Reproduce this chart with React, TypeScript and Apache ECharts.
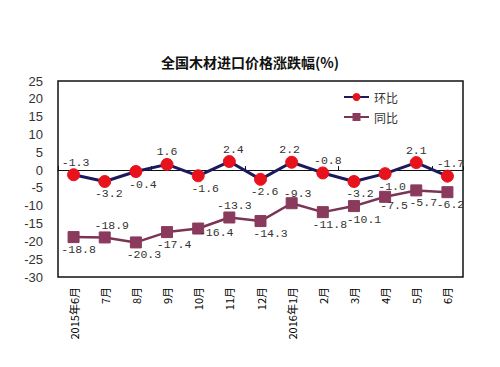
import React, { useEffect, useRef } from "react";
import * as echarts from "echarts";

const categories = ["2015年6月", "7月", "8月", "9月", "10月", "11月", "12月", "2016年1月", "2月", "3月", "4月", "5月", "6月"];
const momValues = [-1.3, -3.2, -0.4, 1.6, -1.6, 2.4, -2.6, 2.2, -0.8, -3.2, -1.0, 2.1, -1.7];
const yoyValues = [-18.8, -18.9, -20.3, -17.4, -16.4, -13.3, -14.3, -9.3, -11.8, -10.1, -7.5, -5.7, -6.2];
const momLabelPos = ["top", "bottom", "bottom", "top", "bottom", "top", "bottom", "top", "top", "bottom", "bottom", "top", "top"];
const yoyLabelPos = ["bottom", "top", "bottom", "bottom", "bottom", "top", "bottom", "top", "bottom", "bottom", "bottom", "bottom", "bottom"];
const momLabelShift = [[2, 0], [4, 0], [7, 0], [0, 0], [7, 0], [4, 0], [4, 0], [-2, 0], [5, 0], [6, 0], [7, 0], [0, 0], [3, 0]];
const yoyLabelShift = [[5, 0], [7, 0], [8, 0], [7, 0], [18, -8], [5, 0], [10, 0], [6, 2], [7, 0], [10, 1], [9, -3], [7, 0], [3, 0]];

export default function App() {
  const ref = useRef<HTMLDivElement>(null);
  useEffect(() => {
    document.body.style.margin = "0";
    const chart = echarts.init(ref.current!, null, { renderer: "svg" });
    const labelFont = { fontFamily: "Liberation Mono", fontSize: 11.5, color: "#333" };
    const fmt = (p: any) => Number(p.value).toFixed(1);
    chart.setOption({
      animation: false,
      backgroundColor: "#fff",
      title: {
        text: "全国木材进口价格涨跌幅(%)",
        left: "center",
        top: 50,
        textStyle: { fontSize: 14, fontWeight: "bold", color: "#111", fontFamily: "Noto Sans CJK SC" },
      },
      legend: {
        orient: "vertical",
        left: 338,
        top: 86,
        itemGap: 8,
        itemWidth: 25,
        itemHeight: 10,
        textStyle: { fontSize: 12, color: "#333", fontFamily: "Noto Sans CJK SC" },
        data: ["环比", "同比"],
      },
      grid: {
        left: 58,
        right: 37,
        top: 81,
        bottom: 90,
        show: true,
        borderColor: "#111",
        borderWidth: 1.5,
        backgroundColor: "transparent",
      },
      xAxis: [
        {
          type: "category",
          data: categories,
          position: "bottom",
          axisLine: { show: false, onZero: false },
          axisTick: { show: false },
          axisLabel: { rotate: 90, fontSize: 11, color: "#000", margin: 10, fontFamily: "Noto Sans CJK SC" },
        },
        {
          type: "category",
          data: categories,
          position: "bottom",
          axisLine: { show: true, onZero: true, lineStyle: { color: "#111", width: 1 } },
          axisTick: { show: true, inside: true, length: 4, lineStyle: { color: "#111" } },
          axisLabel: { show: false },
        },
      ],
      yAxis: {
        type: "value",
        min: -30,
        max: 25,
        interval: 5,
        axisLine: { show: false },
        axisTick: { show: false },
        splitLine: { show: false },
        axisLabel: { fontSize: 13, color: "#333", fontFamily: "Liberation Sans", margin: 15 },
      },
      series: [
        {
          name: "环比",
          type: "line",
          xAxisIndex: 0,
          data: momValues.map((v, i) => ({ value: v, label: { position: momLabelPos[i], offset: momLabelShift[i] } })),
          lineStyle: { color: "#1b1a5c", width: 3 },
          itemStyle: { color: "#e8121c", borderColor: "#e8121c" },
          symbol: "circle",
          symbolSize: 12,
          label: { show: true, ...labelFont, distance: 0, formatter: fmt },
          z: 3,
        },
        {
          name: "同比",
          type: "line",
          xAxisIndex: 0,
          data: yoyValues.map((v, i) => ({ value: v, label: { position: yoyLabelPos[i], offset: yoyLabelShift[i] } })),
          lineStyle: { color: "#7a3454", width: 2.5 },
          itemStyle: { color: "#8a3a5c", borderColor: "#8a3a5c" },
          symbol: "rect",
          symbolSize: 11,
          label: { show: true, ...labelFont, distance: 0, formatter: fmt },
          z: 2,
        },
      ],
    });
    return () => chart.dispose();
  }, []);
  return <div ref={ref} style={{ width: 500, height: 367 }} />;
}
